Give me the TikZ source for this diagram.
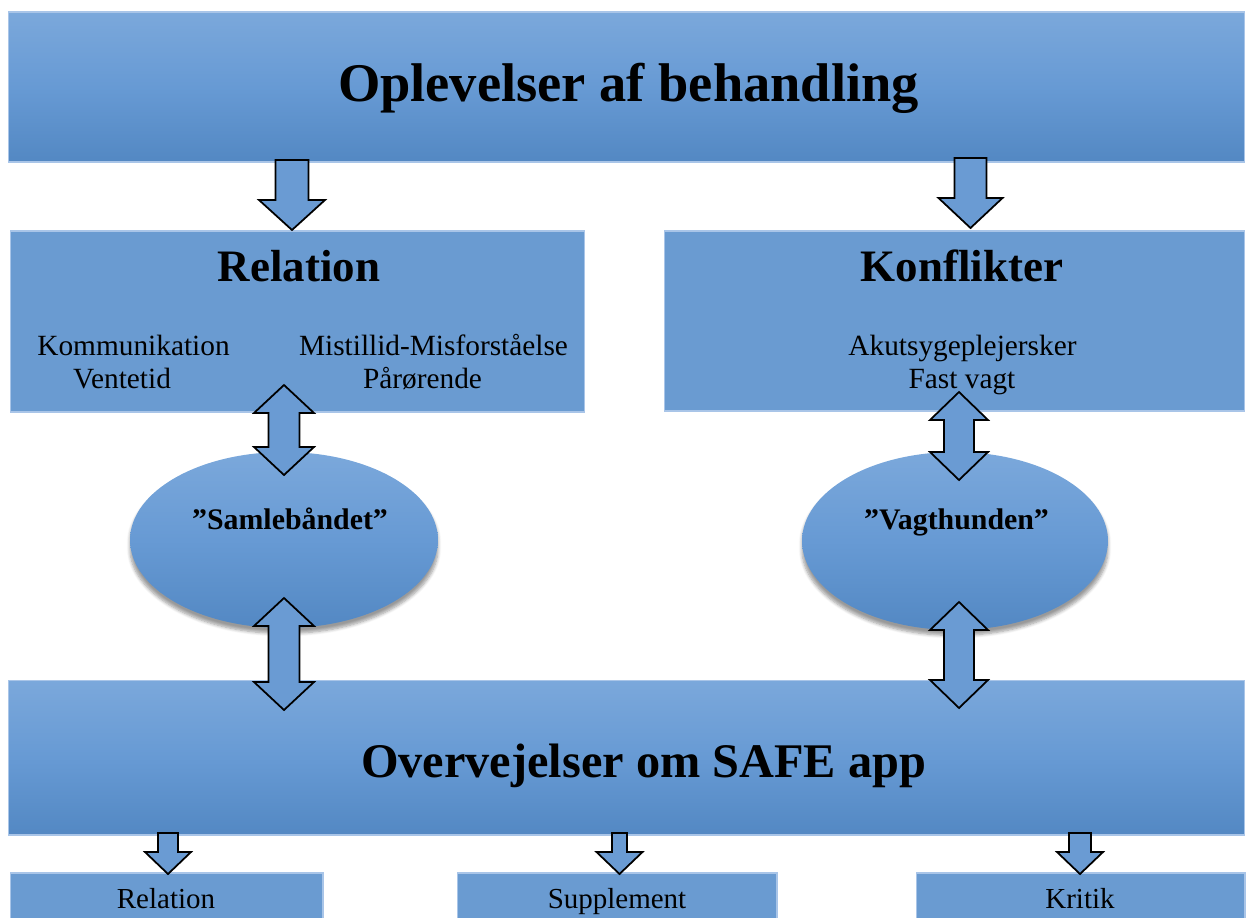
\documentclass[tikz,border=0pt]{standalone}
\usepackage{fontspec}
\setmainfont{Liberation Serif}
\usetikzlibrary{shadows.blur,shapes.geometric}
\definecolor{bTop}{HTML}{7BA8DB}
\definecolor{bMid}{HTML}{679AD4}
\definecolor{bBot}{HTML}{5388C3}
\definecolor{bFlat}{HTML}{6A9BD1}
\definecolor{bEdge}{HTML}{A9C5E8}
\definecolor{aFill}{HTML}{6A9BD3}
\tikzset{
  gradbox/.style={rectangle, draw=bEdge, line width=0.6pt, top color=bTop, bottom color=bBot, middle color=bMid, inner sep=0pt},
  flatbox/.style={rectangle, draw=bEdge, line width=0.6pt, fill=bFlat, inner sep=0pt},
  gradell/.style={ellipse, top color=bTop, bottom color=bBot, middle color=bMid, inner sep=0pt,
    blur shadow={shadow xshift=0pt, shadow yshift=-3pt, shadow blur steps=6, shadow blur extra rounding=2pt}},
  blk/.style={draw=black, fill=aFill, line width=1pt, line join=miter},
  bigtitle/.style={anchor=base, font=\fontsize{31}{36}\selectfont\bfseries},
  midtitle/.style={anchor=base, font=\fontsize{25.6}{30}\selectfont\bfseries},
  bodytext/.style={anchor=base, font=\fontsize{16.7}{20}\selectfont},
  elltext/.style={anchor=base, font=\fontsize{17}{20}\selectfont\bfseries},
  smalltext/.style={anchor=base, font=\fontsize{16.5}{20}\selectfont}
}
% down block arrow: x, ytop, ybot, shaft half width, head half width, head length (pixels, y downward)
\newcommand\DownBlk[6]{%
  \draw[blk] (#1-#4,#2) -- (#1+#4,#2) -- (#1+#4,#3-#6) -- (#1+#5,#3-#6) -- (#1,#3)
    -- (#1-#5,#3-#6) -- (#1-#4,#3-#6) -- cycle;}
% double block arrow
\newcommand\DoubleBlk[6]{%
  \draw[blk] (#1,#2) -- (#1+#5,#2+#6) -- (#1+#4,#2+#6) -- (#1+#4,#3-#6) -- (#1+#5,#3-#6)
    -- (#1,#3) -- (#1-#5,#3-#6) -- (#1-#4,#3-#6) -- (#1-#4,#2+#6) -- (#1-#5,#2+#6) -- cycle;}
\begin{document}
\begin{tikzpicture}[x=0.02cm,y=-0.02cm]
\useasboundingbox (0,0) rectangle (1250,917);

% boxes
\node[gradbox, minimum width=24.74cm, minimum height=3cm] (top) at (626.5,87) {};
\node[flatbox, minimum width=11.5cm, minimum height=3.62cm] (rel) at (297.5,321.5) {};
\node[flatbox, minimum width=11.62cm, minimum height=3.6cm] (konf) at (954.5,321) {};
\node[gradbox, minimum width=24.74cm, minimum height=3.1cm] (bot) at (626.5,757.5) {};
\node[flatbox, minimum width=6.26cm, minimum height=1cm] (brel) at (166.5,898) {};
\node[flatbox, minimum width=6.4cm, minimum height=1cm] (bsup) at (617,898) {};
\node[flatbox, minimum width=6.58cm, minimum height=1cm] (bkri) at (1080.5,898) {};

% ellipses
\node[gradell, minimum width=6.16cm, minimum height=3.52cm] (e1) at (284,540) {};
\node[gradell, minimum width=6.12cm, minimum height=3.56cm] (e2) at (955,541) {};

% texts
\node[bigtitle] (toptxt) at (628.5,101) {Oplevelser af behandling};
\node[midtitle] (reltxt) at (299,281) {Relation};
\node[midtitle] (konftxt) at (962,281) {Konflikter};
\node[bodytext] (t1) at (133.5,355) {Kommunikation};
\node[bodytext] (t2) at (122,388) {Ventetid};
\node[bodytext] (t3) at (433.5,355) {Mistillid-Misforståelse};
\node[bodytext] (t4) at (422.5,388) {Pårørende};
\node[bodytext] (t5) at (962.5,355) {Akutsygeplejersker};
\node[bodytext] (t6) at (962,388) {Fast vagt};
\node[elltext] (e1txt) at (290,529) {”Samlebåndet”};
\node[elltext] (e2txt) at (956.5,529) {”Vagthunden”};
\node[bigtitle, font=\fontsize{27.5}{32}\selectfont\bfseries] (bottxt) at (643.5,777) {Overvejelser om SAFE app};
\node[smalltext] (s1) at (166,908) {Relation};
\node[smalltext] (s2) at (617,908) {Supplement};
\node[smalltext] (s3) at (1080,908) {Kritik};

% block arrows
\DownBlk{292}{160}{230}{16.5}{33}{30}
\DownBlk{970.5}{158}{228}{16}{32}{30}
\DoubleBlk{284}{385}{475}{15.5}{30}{28}
\DoubleBlk{959}{392}{480}{15}{29}{28}
\DoubleBlk{284}{598}{710}{15.5}{30}{28}
\DoubleBlk{959}{602}{708}{15}{29}{28}
\DownBlk{168}{833}{874}{10}{23}{22}
\DownBlk{619.5}{833}{874}{7.5}{23}{22}
\DownBlk{1080}{833}{874}{11}{23}{22}
\end{tikzpicture}
\end{document}
